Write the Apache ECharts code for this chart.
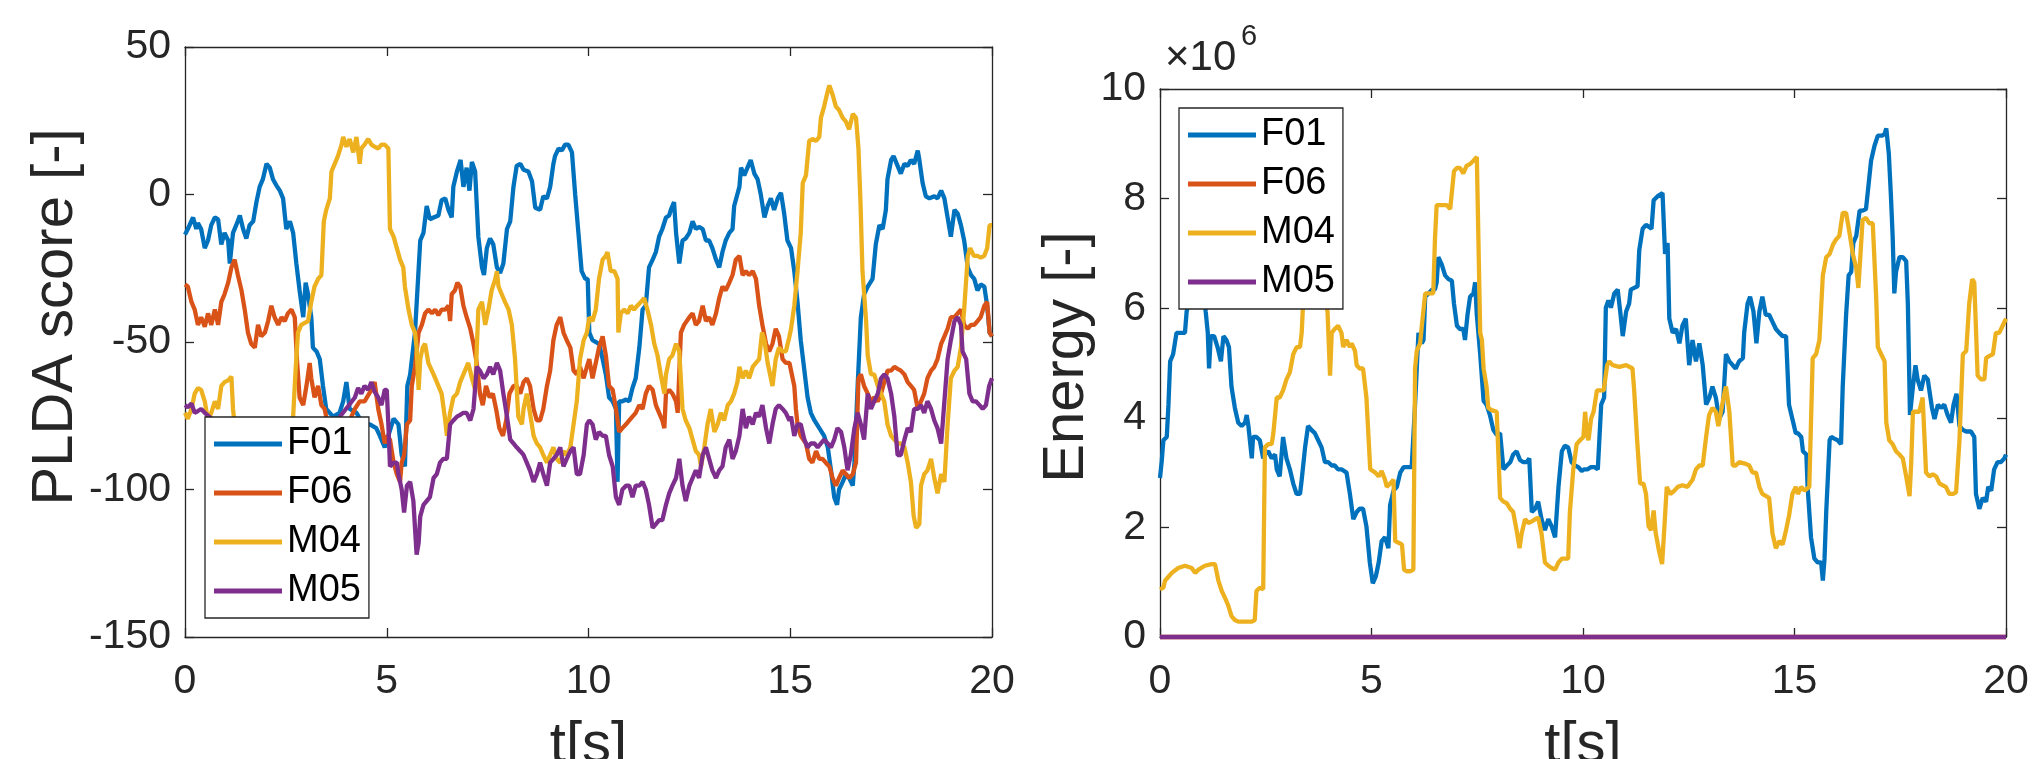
<!DOCTYPE html>
<html><head><meta charset="utf-8">
<script src="https://cdn.jsdelivr.net/npm/echarts@6/dist/echarts.min.js"></script>
<style>html,body{margin:0;padding:0;background:#fff}#c{width:2033px;height:759px}</style>
</head><body><div id="c"></div>
<script>
// ---- data (time in s) ----
const seriesNames = ['F01','F06','M04','M05'];
const colors = ['#0072BD','#D95319','#EDB120','#7E2F8E'];
const xTicks = [0,5,10,15,20];

// Left panel: PLDA score [-]
const pldaF01 = [[0,-13.6],[0.07,-11.7],[0.2,-7.8],[0.28,-11.7],[0.32,-9.7],[0.4,-11.7],[0.49,-18.2],[0.57,-15.6],[0.65,-10.4],[0.74,-7.8],[0.82,-8.4],[0.9,-16.9],[0.98,-13],[1.07,-15.6],[1.11,-23.4],[1.19,-13],[1.27,-10.4],[1.36,-7.1],[1.44,-11.7],[1.52,-14.9],[1.6,-10.4],[1.69,-9.1],[1.77,-2.6],[1.85,2.6],[1.93,5.2],[2.02,10.4],[2.1,9.1],[2.18,5.2],[2.26,3.2],[2.35,1.3],[2.43,-1.3],[2.51,-11.7],[2.6,-9.1],[2.68,-13],[2.76,-23.4],[2.84,-32.5],[2.93,-41.6],[2.99,-29.9],[3.05,-33.8],[3.13,-41.6],[3.17,-51.9],[3.26,-53.2],[3.34,-55.8],[3.42,-64.9],[3.5,-72.7],[3.67,-75.3],[3.83,-74],[3.92,-70.1],[4,-63.6],[4.08,-72.7],[4.25,-74],[4.41,-77.9],[4.58,-77.9],[4.74,-79.2],[4.83,-81.8],[4.95,-85.7],[5.17,-76],[5.29,-77.9],[5.37,-88.3],[5.45,-92.2],[5.51,-64.9],[5.58,-61],[5.7,-46.8],[5.83,-15.6],[5.91,-13],[5.99,-3.9],[6.07,-8.4],[6.16,-7.8],[6.28,-7.1],[6.36,-1.9],[6.45,-1.3],[6.53,-5.2],[6.61,-7.8],[6.65,2.6],[6.74,7.8],[6.83,11.7],[6.9,2.6],[6.98,9.1],[7.05,1.3],[7.11,11],[7.19,7.8],[7.27,-14.3],[7.36,-24.7],[7.41,-27.3],[7.48,-18.2],[7.56,-14.9],[7.64,-16.9],[7.73,-24.7],[7.81,-26.6],[7.89,-23.4],[7.98,-11.7],[8.06,-9.1],[8.14,2.6],[8.22,9.7],[8.31,10.4],[8.39,8.4],[8.51,7.8],[8.6,4.5],[8.68,-4.5],[8.8,-5.2],[8.88,-0.6],[8.97,-1.3],[9.05,2.6],[9.13,10.4],[9.17,13],[9.26,15.6],[9.34,14.9],[9.42,16.9],[9.5,16.9],[9.59,14.3],[9.67,0],[9.75,-13],[9.83,-26],[9.92,-28.6],[9.98,-28.6],[10.02,-46.8],[10.1,-49.4],[10.26,-50.6],[10.35,-55.8],[10.43,-61],[10.51,-68.8],[10.6,-70.1],[10.68,-72.7],[10.72,-97.4],[10.76,-70.1],[10.84,-70.1],[10.93,-69.5],[11.01,-70.1],[11.09,-65.6],[11.17,-62.3],[11.26,-51.9],[11.34,-39],[11.42,-37.7],[11.5,-24.7],[11.59,-22.1],[11.67,-19.5],[11.75,-14.3],[11.83,-11.7],[11.92,-7.8],[12,-7.1],[12.04,-5.2],[12.12,-2.6],[12.17,-13],[12.25,-23.4],[12.33,-15.6],[12.41,-14.9],[12.5,-13],[12.58,-9.1],[12.66,-11.7],[12.74,-11],[12.83,-11.7],[12.91,-15.6],[12.99,-15.6],[13.07,-18.2],[13.16,-22.1],[13.24,-24.7],[13.32,-19.5],[13.4,-15.6],[13.49,-13],[13.57,-11.7],[13.61,-3.9],[13.74,2.6],[13.78,9.1],[13.86,6.5],[13.94,9.1],[14.02,11.7],[14.11,7.1],[14.19,5.2],[14.27,0],[14.36,-7.8],[14.44,-3.9],[14.52,-1.3],[14.6,-5.2],[14.69,-1.3],[14.77,0.6],[14.85,-6.5],[14.93,-15.6],[15.02,-18.2],[15.1,-26],[15.18,-36.4],[15.26,-49.4],[15.35,-59.7],[15.43,-68.8],[15.51,-74],[15.6,-76.6],[15.72,-79.2],[15.84,-81.8],[15.93,-85.7],[16.01,-93.5],[16.09,-102.6],[16.16,-105.2],[16.21,-100],[16.3,-97.4],[16.38,-94.8],[16.46,-96.1],[16.55,-98.7],[16.59,-90.9],[16.67,-64.9],[16.75,-41.6],[16.83,-33.8],[16.92,-31.2],[17.04,-28.6],[17.12,-16.9],[17.21,-10.4],[17.29,-11.7],[17.37,-5.2],[17.41,5.2],[17.5,11.7],[17.56,13],[17.64,10.4],[17.74,7.1],[17.83,10.4],[17.91,9.7],[17.99,11.7],[18.07,10.4],[18.16,14.9],[18.2,11.7],[18.28,3.9],[18.36,-0.6],[18.45,-1.3],[18.57,-0.6],[18.65,-1.3],[18.74,1.3],[18.82,-1.3],[18.9,-7.8],[18.98,-14.3],[19.07,-5.2],[19.15,-6.5],[19.23,-10.4],[19.31,-15.6],[19.4,-24.7],[19.48,-27.3],[19.56,-28.6],[19.64,-32.5],[19.72,-30.5],[19.81,-31.2],[19.88,-37.7],[19.94,-46.8],[20,-48.1]];
const pldaF06 = [[0,-30.5],[0.07,-31.2],[0.16,-36.4],[0.24,-39],[0.32,-44.2],[0.4,-41.6],[0.49,-44.8],[0.57,-40.3],[0.65,-44.2],[0.74,-39],[0.82,-44.2],[0.9,-36.4],[0.98,-33.8],[1.07,-29.9],[1.15,-24.7],[1.23,-22.1],[1.31,-27.3],[1.4,-32.5],[1.48,-39],[1.56,-46.8],[1.64,-50.6],[1.73,-51.9],[1.81,-44.2],[1.89,-48.1],[1.98,-46.8],[2.06,-42.9],[2.14,-37.7],[2.22,-41.6],[2.31,-44.2],[2.39,-41.6],[2.47,-42.9],[2.55,-40.3],[2.64,-39],[2.72,-41.6],[2.78,-57.1],[2.84,-68.8],[2.93,-71.4],[3.01,-64.9],[3.09,-57.1],[3.13,-62.3],[3.21,-68.8],[3.3,-64.9],[3.38,-71.4],[3.46,-72.7],[3.5,-75.3],[3.7,-80],[4.0,-79],[4.21,-72.7],[4.33,-70.1],[4.45,-70.1],[4.62,-66.2],[4.7,-63.6],[4.79,-72.7],[4.87,-77.9],[4.95,-84.4],[5,-81.8],[5.08,-83.1],[5.17,-90.9],[5.25,-94.8],[5.33,-97.4],[5.37,-90.9],[5.43,-88.3],[5.5,-77.9],[5.58,-76.6],[5.62,-64.9],[5.7,-58.4],[5.79,-46.8],[5.87,-44.2],[5.95,-40.3],[6.03,-39],[6.12,-40.3],[6.2,-39],[6.28,-40.9],[6.36,-39],[6.45,-39],[6.53,-37.7],[6.57,-42.9],[6.61,-33.8],[6.69,-32.5],[6.75,-29.9],[6.82,-31.2],[6.9,-37.7],[6.98,-41.6],[7.07,-45.5],[7.15,-50.6],[7.23,-57.1],[7.31,-67.5],[7.38,-71.4],[7.46,-64.9],[7.55,-68.8],[7.63,-67.5],[7.71,-72.7],[7.79,-79.2],[7.88,-81.8],[7.96,-76.6],[8.04,-67.5],[8.14,-64.9],[8.22,-64.9],[8.31,-67.5],[8.39,-63.6],[8.47,-62.3],[8.55,-64.9],[8.64,-72.7],[8.72,-76.6],[8.8,-76.6],[8.88,-72.7],[8.97,-64.9],[9.05,-59.7],[9.13,-49.4],[9.21,-44.2],[9.3,-41.6],[9.38,-46.8],[9.46,-49.4],[9.55,-51.9],[9.63,-59.7],[9.71,-61],[9.79,-58.4],[9.88,-62.3],[9.96,-58.4],[10.02,-55.8],[10.1,-62.3],[10.18,-57.1],[10.26,-51.9],[10.35,-48.1],[10.43,-54.5],[10.51,-64.9],[10.6,-66.2],[10.68,-72.7],[10.76,-80.5],[10.84,-79.2],[10.93,-77.9],[11.01,-76.6],[11.09,-75.3],[11.17,-74],[11.26,-71.4],[11.34,-72.7],[11.42,-67.5],[11.5,-64.9],[11.59,-66.2],[11.67,-71.4],[11.75,-74],[11.83,-76.6],[11.88,-79.2],[11.92,-67.5],[12,-66.2],[12.08,-67.5],[12.17,-70.1],[12.21,-74],[12.29,-46.8],[12.37,-44.2],[12.5,-41.6],[12.58,-40.3],[12.66,-44.2],[12.74,-42.9],[12.83,-37.7],[12.91,-42.9],[12.99,-41.6],[13.07,-44.2],[13.16,-40.3],[13.24,-35.1],[13.32,-31.2],[13.4,-32.5],[13.49,-29.9],[13.57,-27.3],[13.65,-22.1],[13.74,-20.8],[13.82,-27.3],[13.9,-26],[13.98,-27.3],[14.07,-26],[14.15,-28.6],[14.23,-37.7],[14.31,-44.2],[14.4,-50.6],[14.48,-53.2],[14.56,-50.6],[14.64,-45.5],[14.72,-48.1],[14.81,-55.8],[14.89,-57.1],[14.98,-57.1],[15.1,-64.9],[15.14,-72.7],[15.18,-77.9],[15.26,-81.8],[15.39,-84.4],[15.47,-89.6],[15.55,-90.9],[15.64,-87],[15.72,-89.6],[15.8,-89.6],[15.88,-90.9],[15.97,-92.2],[16.05,-96.1],[16.13,-98.7],[16.21,-96.1],[16.3,-93.5],[16.38,-94.8],[16.46,-96.1],[16.55,-94.8],[16.63,-90.9],[16.69,-62.3],[16.75,-61],[16.83,-64.9],[16.92,-67.5],[17,-70.1],[17.08,-68.8],[17.17,-70.1],[17.25,-67.5],[17.33,-63.6],[17.41,-59.7],[17.5,-59.7],[17.58,-58.4],[17.66,-59.1],[17.74,-59.7],[17.83,-61],[17.91,-63.6],[17.99,-64.9],[18.07,-66.2],[18.16,-72.7],[18.24,-70.1],[18.32,-67.5],[18.4,-62.3],[18.49,-59.7],[18.57,-58.4],[18.65,-55.8],[18.74,-50.6],[18.82,-48.1],[18.9,-45.5],[18.98,-41.6],[19.07,-41.6],[19.15,-40.3],[19.23,-39],[19.31,-44.2],[19.4,-45.5],[19.48,-44.2],[19.56,-44.2],[19.64,-42.9],[19.72,-41.6],[19.81,-37.7],[19.88,-36.4],[19.94,-46.8],[20,-48.1]];
const pldaM04 = [[0,-74],[0.07,-76],[0.16,-72.7],[0.24,-67.5],[0.32,-65.6],[0.4,-66.2],[0.49,-70.1],[0.57,-76.6],[0.65,-74],[0.74,-70.1],[0.82,-72.7],[0.9,-64.9],[0.98,-63.6],[1.07,-63],[1.15,-61.7],[1.19,-72.7],[1.23,-77.9],[1.4,-82],[1.8,-86],[2.2,-84],[2.5,-80],[2.68,-75.3],[2.74,-59.7],[2.8,-46.8],[2.88,-44.2],[2.97,-43.5],[3.05,-42.9],[3.13,-36.4],[3.21,-31.2],[3.3,-28.6],[3.38,-27.3],[3.44,-9.1],[3.5,-5.2],[3.59,-1.3],[3.63,7.8],[3.71,10.4],[3.79,13],[3.88,16.9],[3.92,19.5],[4,16.2],[4.08,18.8],[4.17,14.3],[4.25,19.5],[4.33,10.4],[4.37,15.6],[4.45,16.9],[4.54,18.8],[4.62,16.9],[4.7,16.2],[4.79,15.6],[4.87,16.9],[4.95,16.9],[5.04,15.6],[5.08,-11.7],[5.17,-14.3],[5.25,-18.2],[5.33,-22.1],[5.41,-24.7],[5.45,-31.2],[5.54,-39],[5.62,-44.2],[5.7,-46.8],[5.74,-51.9],[5.79,-66.2],[5.83,-55.8],[5.89,-51.9],[5.95,-50.6],[6.03,-57.1],[6.16,-61],[6.28,-64.9],[6.36,-67.5],[6.45,-76.6],[6.49,-81.8],[6.57,-74],[6.65,-68.8],[6.74,-67.5],[6.82,-63.6],[6.9,-61],[7.02,-57.1],[7.11,-62.3],[7.19,-66.2],[7.27,-39],[7.36,-36.4],[7.44,-44.2],[7.52,-39],[7.6,-32.5],[7.69,-28.6],[7.73,-26],[7.77,-31.2],[7.85,-33.8],[7.93,-36.4],[8.02,-39],[8.1,-44.2],[8.18,-55.8],[8.26,-75.3],[8.35,-77.9],[8.39,-72.7],[8.47,-67.5],[8.55,-74],[8.64,-81.8],[8.72,-84.4],[8.8,-85.7],[8.88,-88.3],[8.97,-90.9],[9.05,-88.3],[9.13,-85.7],[9.21,-89.6],[9.3,-90.9],[9.38,-87],[9.46,-88.3],[9.55,-85.7],[9.63,-77.9],[9.71,-70.1],[9.79,-55.8],[9.88,-49.4],[9.96,-46.8],[10.02,-41.6],[10.1,-42.9],[10.18,-39],[10.26,-28.6],[10.35,-22.1],[10.43,-20.8],[10.47,-19.5],[10.55,-26],[10.64,-26],[10.72,-28.6],[10.74,-46.8],[10.8,-40.3],[10.88,-39],[10.97,-40.3],[11.05,-37.7],[11.13,-39],[11.21,-37.7],[11.3,-36.4],[11.38,-35.1],[11.46,-39],[11.55,-44.2],[11.63,-50.6],[11.71,-54.5],[11.79,-61],[11.88,-67.5],[11.92,-61],[12,-55.8],[12.08,-54.5],[12.17,-50.6],[12.25,-53.2],[12.33,-72.7],[12.41,-76.6],[12.5,-79.2],[12.58,-83.1],[12.66,-87],[12.74,-88.3],[12.79,-92.2],[12.87,-85.7],[12.95,-77.9],[13.03,-72.7],[13.12,-80.5],[13.2,-77.9],[13.28,-74],[13.36,-76.6],[13.45,-71.4],[13.53,-70.1],[13.61,-67.5],[13.69,-63.6],[13.74,-58.4],[13.82,-62.3],[13.9,-59.7],[13.98,-62.3],[14.07,-58.4],[14.15,-57.1],[14.23,-55.8],[14.3,-46.8],[14.36,-49.4],[14.44,-57.1],[14.52,-62.3],[14.56,-64.9],[14.64,-55.8],[14.72,-51.9],[14.81,-53.2],[14.89,-53.2],[14.98,-48.1],[15.02,-45.5],[15.1,-37.7],[15.18,-26],[15.26,-13],[15.31,3.9],[15.39,6.5],[15.47,18.2],[15.55,18.8],[15.64,18.2],[15.72,19.5],[15.76,26],[15.84,29.9],[15.93,35.1],[15.97,37],[16.05,33.8],[16.13,29.9],[16.21,28.6],[16.3,26],[16.38,24.7],[16.46,22.1],[16.55,27.3],[16.63,26],[16.69,15.6],[16.74,-2.6],[16.79,-26],[16.88,-42.9],[16.92,-54.5],[17,-61],[17.08,-61],[17.17,-64.9],[17.25,-67.5],[17.33,-70.1],[17.41,-77.9],[17.5,-81.8],[17.58,-83.1],[17.66,-84.4],[17.74,-84.4],[17.83,-85.7],[17.91,-90.9],[17.99,-97.4],[18.06,-109.1],[18.12,-113],[18.2,-111.7],[18.24,-98.7],[18.32,-94.8],[18.4,-93.5],[18.49,-89.6],[18.57,-96.1],[18.65,-101.3],[18.74,-94.8],[18.82,-97.4],[18.9,-77.9],[18.98,-62.3],[19.07,-59.7],[19.15,-58.4],[19.23,-51.9],[19.31,-39],[19.4,-20.8],[19.46,-18.2],[19.55,-20.8],[19.64,-20.8],[19.72,-21.4],[19.81,-20.8],[19.88,-18.2],[19.94,-10.4],[20,-10.4]];
const pldaM05 = [[0,-71.4],[0.07,-72.1],[0.16,-70.8],[0.24,-74],[0.32,-73.4],[0.4,-72.7],[0.49,-74],[1.0,-80],[2.0,-84],[3.0,-80],[3.8,-76],[4.21,-68.8],[4.29,-65.6],[4.37,-67.5],[4.45,-64.9],[4.54,-66.2],[4.62,-63.6],[4.7,-66.9],[4.79,-68.8],[4.87,-71.4],[4.95,-66.2],[5,-66.2],[5.04,-77.9],[5.08,-92.2],[5.17,-90.9],[5.25,-90.9],[5.29,-94.8],[5.37,-100],[5.43,-107.8],[5.5,-98.7],[5.58,-97.4],[5.66,-103.9],[5.74,-122.1],[5.79,-118.2],[5.83,-109.1],[5.91,-105.2],[5.99,-103.9],[6.07,-102.6],[6.16,-96.1],[6.24,-94.8],[6.32,-90.9],[6.4,-89.6],[6.49,-89.6],[6.57,-77.9],[6.65,-76.6],[6.74,-75.3],[6.82,-74.7],[6.9,-74],[6.98,-74],[7.07,-76.6],[7.15,-72.7],[7.23,-58.4],[7.31,-59.7],[7.4,-62.3],[7.48,-61],[7.56,-58.4],[7.64,-61],[7.73,-57.1],[7.81,-59.7],[7.89,-67.5],[7.98,-75.3],[8.06,-83.1],[8.14,-84.4],[8.22,-85.7],[8.31,-87],[8.39,-88.3],[8.47,-90.9],[8.55,-93.5],[8.64,-97.4],[8.72,-94.8],[8.8,-90.9],[8.88,-94.8],[8.97,-98.7],[9.05,-90.9],[9.13,-89.6],[9.21,-88.3],[9.3,-85.7],[9.38,-92.2],[9.46,-89.6],[9.55,-87],[9.63,-85.7],[9.71,-94.8],[9.79,-94.8],[9.88,-88.3],[9.96,-77.9],[10.02,-76.6],[10.1,-77.9],[10.18,-83.1],[10.26,-80.5],[10.35,-81.8],[10.43,-81.8],[10.51,-88.3],[10.6,-92.2],[10.68,-102.6],[10.76,-105.2],[10.84,-100],[10.93,-98.7],[11.01,-98.7],[11.09,-102.6],[11.17,-98.7],[11.26,-98.7],[11.34,-97.4],[11.42,-100],[11.5,-105.2],[11.59,-113],[11.67,-111.7],[11.75,-110.4],[11.83,-110.4],[11.92,-105.2],[12,-101.3],[12.08,-98.7],[12.17,-96.1],[12.25,-89.6],[12.33,-98.7],[12.41,-103.9],[12.5,-98.7],[12.58,-96.1],[12.66,-93.5],[12.74,-96.1],[12.83,-88.3],[12.91,-85.7],[12.99,-89.6],[13.07,-93.5],[13.16,-96.1],[13.24,-93.5],[13.32,-92.2],[13.4,-85.7],[13.49,-83.1],[13.57,-89.6],[13.65,-87],[13.74,-81.8],[13.82,-72.7],[13.9,-79.2],[13.98,-75.3],[14.07,-77.9],[14.15,-74],[14.23,-75.3],[14.31,-71.4],[14.4,-79.2],[14.48,-84.4],[14.56,-77.9],[14.64,-72.7],[14.72,-71.4],[14.81,-72.7],[14.89,-74],[14.98,-76.6],[15.02,-75.3],[15.1,-81.8],[15.18,-77.9],[15.26,-77.9],[15.35,-83.1],[15.43,-85.7],[15.51,-84.4],[15.6,-84.4],[15.68,-85.7],[15.76,-84.4],[15.84,-83.1],[15.93,-84.4],[16.01,-85.7],[16.09,-83.1],[16.17,-79.2],[16.26,-80.5],[16.34,-85.7],[16.42,-93.5],[16.5,-88.3],[16.59,-79.2],[16.67,-74],[16.75,-77.9],[16.83,-83.1],[16.92,-67.5],[17,-72.7],[17.08,-70.1],[17.17,-67.5],[17.25,-62.3],[17.33,-61],[17.41,-62.3],[17.5,-67.5],[17.58,-75.3],[17.66,-88.3],[17.74,-88.3],[17.83,-83.1],[17.91,-79.2],[17.99,-80.5],[18.07,-72.7],[18.16,-72.7],[18.24,-71.4],[18.32,-74],[18.4,-70.1],[18.49,-72.7],[18.57,-76.6],[18.65,-79.2],[18.74,-84.4],[18.82,-70.1],[18.9,-55.8],[18.98,-49.4],[19.07,-42.9],[19.15,-41.6],[19.23,-44.2],[19.27,-53.2],[19.36,-55.8],[19.44,-67.5],[19.52,-70.1],[19.6,-70.1],[19.69,-71.4],[19.77,-72.7],[19.85,-71.4],[19.93,-64.9],[20,-62.3]];

// Right panel: Energy [-], values in units of 1e6
const energyScaleExp = 6;
const energyF01 = [[0,2.9],[0.04,3.2],[0.08,3.59],[0.16,3.65],[0.2,4.24],[0.24,5.03],[0.31,5.16],[0.39,5.55],[0.51,5.55],[0.59,5.55],[0.63,5.94],[0.8,6.5],[1.0,6.6],[1.08,5.94],[1.13,5.55],[1.16,4.9],[1.2,5.49],[1.28,5.49],[1.36,5.29],[1.44,5.03],[1.5,5.49],[1.57,5.42],[1.63,5.29],[1.69,4.57],[1.77,4.18],[1.85,3.91],[1.93,3.85],[2.01,3.91],[2.05,4.05],[2.09,3.85],[2.17,3.26],[2.2,3.65],[2.28,3.65],[2.36,3.59],[2.44,3.26],[2.48,3.33],[2.56,3.39],[2.64,3.26],[2.72,3.33],[2.76,3.06],[2.83,2.93],[2.91,3.65],[2.99,3.26],[3.07,3.06],[3.15,2.8],[3.23,2.61],[3.31,2.61],[3.35,2.87],[3.43,3.46],[3.5,3.85],[3.58,3.78],[3.66,3.72],[3.74,3.59],[3.82,3.46],[3.9,3.19],[3.98,3.19],[4.06,3.13],[4.13,3.13],[4.21,3.06],[4.29,3.06],[4.41,3],[4.49,2.61],[4.57,2.15],[4.65,2.28],[4.72,2.34],[4.8,2.34],[4.88,2.02],[4.96,1.36],[5.03,0.98],[5.1,1.1],[5.17,1.36],[5.24,1.75],[5.32,1.82],[5.4,1.62],[5.44,2.41],[5.52,2.67],[5.6,2.74],[5.68,3],[5.76,3.1],[5.95,3.1],[6.03,4.24],[6.11,5.55],[6.19,5.36],[6.23,5.42],[6.27,6.21],[6.35,6.27],[6.43,6.34],[6.5,6.34],[6.54,6.47],[6.58,6.93],[6.66,6.8],[6.74,6.6],[6.82,6.53],[6.9,6.5],[6.95,6.08],[7.02,5.68],[7.09,5.62],[7.17,5.62],[7.21,5.42],[7.27,5.88],[7.33,6.21],[7.41,6.27],[7.45,6.47],[7.49,5.88],[7.57,5.16],[7.65,4.31],[7.72,4.24],[7.8,4.05],[7.88,3.78],[7.96,3.69],[8.04,3.72],[8.12,3.06],[8.2,3.13],[8.28,3.19],[8.35,3.33],[8.43,3.39],[8.51,3.23],[8.59,3.19],[8.67,3.19],[8.73,3.26],[8.79,2.28],[8.87,2.34],[8.94,2.47],[9.02,2.15],[9.1,1.95],[9.18,2.15],[9.26,2.02],[9.34,1.82],[9.42,2.74],[9.5,3.39],[9.57,3.49],[9.65,3.46],[9.73,3.19],[9.81,3.13],[9.89,3.1],[9.97,3.03],[10.03,3.06],[10.11,3.06],[10.19,3.1],[10.27,3.1],[10.35,3.06],[10.39,3.06],[10.43,4.24],[10.5,4.37],[10.54,6.01],[10.6,6.14],[10.66,6.01],[10.74,6.27],[10.82,6.34],[10.88,5.94],[10.94,5.49],[11.02,5.94],[11.09,6.08],[11.13,6.34],[11.21,6.37],[11.29,6.4],[11.33,7.06],[11.41,7.45],[11.49,7.52],[11.57,7.48],[11.62,7.45],[11.67,7.97],[11.76,8.04],[11.88,8.1],[11.94,6.99],[12,7.19],[12.04,5.81],[12.12,5.55],[12.2,5.62],[12.28,5.36],[12.35,5.68],[12.43,5.81],[12.51,4.96],[12.59,5.42],[12.67,5.03],[12.75,5.36],[12.83,4.96],[12.91,4.24],[12.99,4.37],[13.06,4.57],[13.14,4.37],[13.22,3.98],[13.3,4.11],[13.38,5.16],[13.46,5.03],[13.54,4.96],[13.61,4.9],[13.69,5.03],[13.78,5.09],[13.81,5.55],[13.89,6.08],[13.95,6.21],[14.03,5.94],[14.1,5.36],[14.17,5.94],[14.24,6.21],[14.32,5.88],[14.4,5.88],[14.48,5.75],[14.56,5.62],[14.64,5.55],[14.72,5.49],[14.8,5.49],[14.87,4.24],[14.95,3.98],[15.03,3.72],[15.08,3.72],[15.16,3.65],[15.2,3.39],[15.28,3.33],[15.31,2.74],[15.35,2.28],[15.39,1.82],[15.47,1.43],[15.55,1.36],[15.63,1.36],[15.67,1.03],[15.71,1.43],[15.75,2.28],[15.79,2.93],[15.83,3.59],[15.87,3.65],[15.94,3.62],[16.02,3.59],[16.1,3.52],[16.14,4.57],[16.22,5.88],[16.28,6.6],[16.34,6.66],[16.39,7.19],[16.46,7.32],[16.54,7.78],[16.61,7.78],[16.69,7.81],[16.73,8.1],[16.81,8.69],[16.89,8.96],[16.97,9.15],[17.07,9.15],[17.13,9.18],[17.17,9.28],[17.23,8.82],[17.28,8.04],[17.32,7.32],[17.36,6.27],[17.4,6.66],[17.48,6.93],[17.56,6.93],[17.64,6.86],[17.68,6.08],[17.73,4.05],[17.8,4.57],[17.86,4.96],[17.91,4.7],[17.99,4.5],[18.07,4.77],[18.15,4.7],[18.25,4.18],[18.31,3.98],[18.39,4.24],[18.46,4.18],[18.54,4.24],[18.62,4.05],[18.7,3.91],[18.76,4.24],[18.83,4.44],[18.9,3.85],[18.98,3.78],[19.06,3.75],[19.17,3.75],[19.25,3.65],[19.29,2.61],[19.37,2.34],[19.45,2.54],[19.53,2.47],[19.58,2.74],[19.65,2.67],[19.72,3.06],[19.8,3.19],[19.88,3.19],[19.96,3.26],[20,3.33]];
const energyF06 = [[0,0],[5,0],[10,0],[15,0],[20,0]];
const energyM04 = [[0,0.87],[0.08,0.9],[0.12,1.03],[0.2,1.1],[0.28,1.17],[0.43,1.26],[0.59,1.3],[0.75,1.26],[0.83,1.17],[0.91,1.23],[1.06,1.3],[1.22,1.33],[1.3,1.33],[1.38,1.03],[1.46,0.84],[1.54,0.71],[1.61,0.58],[1.69,0.38],[1.77,0.31],[1.85,0.28],[2.01,0.28],[2.17,0.28],[2.24,0.31],[2.28,0.84],[2.36,0.9],[2.44,0.87],[2.48,3.46],[2.56,3.52],[2.64,3.52],[2.68,3.72],[2.76,4.37],[2.83,4.37],[2.91,4.5],[2.99,4.7],[3.07,4.83],[3.15,5.16],[3.23,5.29],[3.31,5.29],[3.35,5.55],[3.39,6.21],[3.5,6.6],[3.7,6.7],[3.96,5.94],[4.02,4.77],[4.06,5.55],[4.13,5.62],[4.21,5.68],[4.29,5.55],[4.33,5.29],[4.41,5.42],[4.49,5.29],[4.53,5.36],[4.61,5.22],[4.65,4.96],[4.72,4.9],[4.8,4.9],[4.88,4.37],[4.97,3.06],[5.01,3.03],[5.09,3],[5.17,2.93],[5.24,3.03],[5.32,2.87],[5.36,2.74],[5.44,2.8],[5.52,2.87],[5.56,1.75],[5.64,1.72],[5.72,1.69],[5.77,1.23],[5.83,1.2],[5.91,1.2],[5.99,1.23],[6.03,4.9],[6.07,5.22],[6.15,5.36],[6.19,5.68],[6.27,6.27],[6.35,6.27],[6.46,6.27],[6.5,7.25],[6.54,7.88],[6.62,7.88],[6.7,7.88],[6.78,7.88],[6.86,7.81],[6.95,8.5],[7.02,8.56],[7.09,8.56],[7.17,8.46],[7.25,8.6],[7.33,8.63],[7.41,8.69],[7.49,8.76],[7.53,8.79],[7.57,5.55],[7.61,5.42],[7.65,4.9],[7.72,4.57],[7.76,4.18],[7.84,4.14],[7.96,4.11],[8.04,2.54],[8.12,2.47],[8.2,2.44],[8.28,2.34],[8.35,2.28],[8.43,1.95],[8.5,1.62],[8.55,1.89],[8.63,2.15],[8.71,2.08],[8.79,2.11],[8.87,2.15],[8.94,2.18],[9.02,1.89],[9.1,1.36],[9.18,1.3],[9.26,1.26],[9.34,1.23],[9.42,1.36],[9.5,1.43],[9.65,1.43],[9.69,2.28],[9.77,3.06],[9.85,3.52],[9.93,3.59],[10.01,3.65],[10.05,4.11],[10.09,3.72],[10.13,3.59],[10.19,3.98],[10.25,4.11],[10.33,4.5],[10.49,4.5],[10.57,4.96],[10.62,5.03],[10.7,4.96],[10.86,4.93],[11.02,4.96],[11.17,4.9],[11.21,4.5],[11.28,3.59],[11.35,2.8],[11.43,2.8],[11.49,2.61],[11.55,2.02],[11.61,1.95],[11.67,2.31],[11.72,1.89],[11.8,1.56],[11.87,1.33],[11.92,1.95],[11.98,2.74],[12.06,2.61],[12.16,2.67],[12.24,2.74],[12.35,2.77],[12.47,2.74],[12.59,2.87],[12.67,3.06],[12.75,3.13],[12.83,3.13],[12.91,3.65],[12.98,4.05],[13.06,4.18],[13.14,4.11],[13.2,3.85],[13.26,4.11],[13.34,4.44],[13.38,4.57],[13.46,4.11],[13.54,3.13],[13.61,3.13],[13.69,3.19],[13.85,3.16],[13.93,3.13],[14.01,3],[14.09,3],[14.17,2.74],[14.24,2.61],[14.4,2.54],[14.48,1.89],[14.56,1.62],[14.64,1.75],[14.72,1.69],[14.8,1.95],[14.87,2.21],[14.95,2.61],[15.03,2.74],[15.08,2.61],[15.16,2.74],[15.24,2.67],[15.35,2.74],[15.43,5.09],[15.51,5.16],[15.59,5.42],[15.67,6.6],[15.75,6.93],[15.83,6.99],[15.91,7.16],[15.98,7.25],[16.06,7.32],[16.14,7.74],[16.22,7.74],[16.3,7.38],[16.38,6.99],[16.46,6.73],[16.51,6.37],[16.56,6.99],[16.61,7.61],[16.69,7.65],[16.77,7.55],[16.85,7.55],[16.93,6.21],[16.97,5.29],[17.05,5.16],[17.13,5.03],[17.17,3.91],[17.24,3.59],[17.32,3.52],[17.4,3.39],[17.48,3.33],[17.56,3.26],[17.64,2.93],[17.72,2.57],[17.76,3.19],[17.8,4.11],[17.87,4.11],[17.95,4.11],[18.03,4.37],[18.11,3],[18.19,2.93],[18.27,2.97],[18.35,2.93],[18.43,2.8],[18.5,2.77],[18.58,2.74],[18.66,2.61],[18.74,2.61],[18.82,2.64],[18.9,3.59],[18.98,5.16],[19.06,5.22],[19.13,6.08],[19.2,6.53],[19.25,6.47],[19.33,4.77],[19.41,4.7],[19.49,4.7],[19.53,5.09],[19.61,5.13],[19.69,5.16],[19.76,5.55],[19.84,5.55],[19.92,5.68],[20,5.81]];
const energyM05 = [[0,0],[5,0],[10,0],[15,0],[20,0]];

const leftY = {min:-150, max:50, interval:50};
const rightY = {min:0, max:10, interval:2};

// ---- chart ----
const FONT = '"Liberation Sans", Arial, Helvetica, sans-serif';
const INK = '#262626';
const chart = echarts.init(document.getElementById('c'), null, {renderer:'canvas'});

function xAx(gi, pos, show){
  return {type:'value', gridIndex:gi, position:pos, min:0, max:20, interval:5,
    axisLine:{show:true, onZero:false, lineStyle:{color:INK, width:1.3}},
    axisTick:{show:true, inside:true, length:9, lineStyle:{color:INK, width:1.3}},
    axisLabel:{show:show, color:INK, fontSize:41, fontFamily:FONT, margin:24},
    splitLine:{show:false},
    name: show ? 't[s]' : '', nameLocation:'middle', nameGap:80,
    nameTextStyle:{color:INK, fontSize:58, fontFamily:FONT}};
}
function yAx(gi, pos, show, r, nm, gap, padL){
  return {type:'value', gridIndex:gi, position:pos, min:r.min, max:r.max, interval:r.interval,
    axisLine:{show:true, onZero:false, lineStyle:{color:INK, width:1.3}},
    axisTick:{show:true, inside:true, length:9, lineStyle:{color:INK, width:1.3}},
    axisLabel:{show:show, color:INK, fontSize:41, fontFamily:FONT, margin:14},
    splitLine:{show:false},
    name: show ? nm : '', nameLocation:'middle', nameGap:gap,
    nameTextStyle:{color:INK, fontSize:58, fontFamily:FONT, padding:[0,0,0,padL||0]}};
}
function ln(name, data, idx, xi, yi, extra){
  return Object.assign({type:'line', name:name, data:data, xAxisIndex:xi, yAxisIndex:yi,
    showSymbol:false, symbol:'none', color:colors[idx],
    lineStyle:{width:4.3, color:colors[idx]}, animation:false}, extra||{});
}
function legendAt(left, top){
  return {data:seriesNames, orient:'vertical', left:left, top:top, icon:'rect',
    itemWidth:68, itemHeight:5, itemGap:9, itemTextGap:6, padding:[7,8,7,9],
    backgroundColor:'#fff', borderColor:INK, borderWidth:1.3, z:20,
    textStyle:{color:'#000', fontSize:38, lineHeight:40, fontFamily:FONT}};
}

chart.setOption({
  animation:false,
  backgroundColor:'#fff',
  grid:[
    {left:185, top:47, width:807, height:590, containLabel:false, outerBoundsMode:'none'},
    {left:1160, top:89, width:846, height:548, containLabel:false, outerBoundsMode:'none'}
  ],
  xAxis:[xAx(0,'bottom',true), xAx(0,'top',false), xAx(1,'bottom',true), xAx(1,'top',false)],
  yAxis:[yAx(0,'left',true,leftY,'PLDA score [-]',94,50), yAx(0,'right',false,leftY,'',0),
         yAx(1,'left',true,rightY,'Energy [-]',58,12), yAx(1,'right',false,rightY,'',0)],
  legend:[legendAt(205,417), legendAt(1179,108)],
  graphic:[
    {type:'text', left:1165, top:37, style:{text:'×10', fontSize:42, fontFamily:FONT, fill:INK}},
    {type:'text', left:1241, top:22, style:{text:String(energyScaleExp), fontSize:29, fontFamily:FONT, fill:INK}}
  ],
  series:[
    ln('F01', pldaF01, 0, 0, 0), ln('F06', pldaF06, 1, 0, 0), ln('M04', pldaM04, 2, 0, 0), ln('M05', pldaM05, 3, 0, 0),
    ln('F01', energyF01, 0, 2, 2), ln('F06', energyF06, 1, 2, 2, {clip:false}), ln('M04', energyM04, 2, 2, 2), ln('M05', energyM05, 3, 2, 2, {clip:false})
  ]
});
</script></body></html>
